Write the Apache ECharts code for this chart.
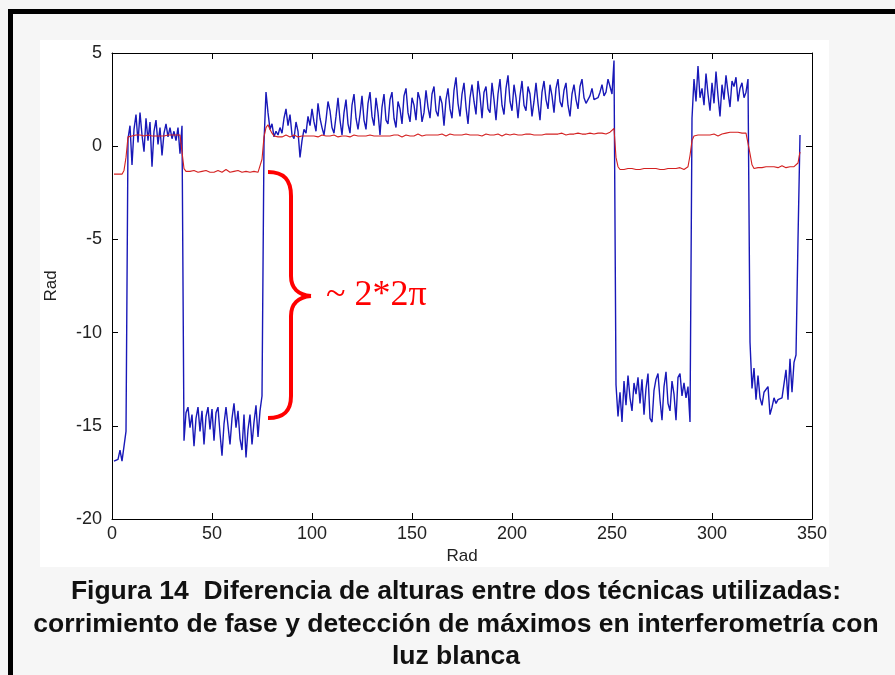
<!DOCTYPE html>
<html>
<head>
    <title>Diferencia de alturas</title>
    <meta charset="utf-8">
    <script type="text/javascript" src="https://cdn.jsdelivr.net/npm/echarts@6/dist/echarts.min.js"></script>
    <style>
        html, body { margin: 0; padding: 0; background: #f6f6f6; }
    </style>
</head>
<body>
<div id="chartmain" style="width:895px; height:675px;"></div>
<script type="text/javascript">
// tick labels
var xTicks = [0, 50, 100, 150, 200, 250, 300, 350];
var yTicks = [-20, -15, -10, -5, 0, 5];

// detección de máximos (azul), one value per sample x = 1..344
var blueVals = [
    -16.9, -16.9, -16.8, -16.3, -16.9, -16.9, -15.3,
    0.4, 1.1, -1.0, 0.9, 1.7, 0.2, 1.8, 0.6, -0.3, 1.5, 0.3, 1.3, -1.1, 0.8, 1.4, 0.1, 1.0, -0.5, 0.7, 1.2, 0.5, 1.0, 0.4, 0.8, 0.3, 1.0, -0.4, 1.1,
    -15.8, -14.3, -14.0, -15.1, -14.4, -16.1, -14.6, -14.0, -15.3, -14.2, -16.0, -14.5, -14.0, -15.2, -14.1, -15.8, -14.3, -14.0, -15.4, -16.6,
    -14.9, -14.0, -15.0, -16.0, -14.6, -13.8, -15.1, -14.2, -15.7, -16.3, -14.4, -16.7, -15.2, -14.4, -16.0, -14.8, -13.9, -15.6, -14.2,
    -13.4, 0.2,
    2.9, 1.8, 0.9, 1.2, 0.5, 0.8, 0.6, 1.0, 0.7, 1.5,
    2.0, 1.1, 1.7, 0.6, 0.4, 1.3, 0.8, -0.6, 0.3, 0.9,
    0.7, 1.6, 1.1, 2.0, 1.3, 0.8, 2.3, 1.5, 1.0, 0.6,
    1.4, 2.4, 1.9, 1.0, 0.7, 1.6, 2.6, 1.4, 0.6, 1.8,
    2.5, 1.2, 0.7, 2.2, 2.8, 1.5, 0.9, 1.7, 2.7, 1.4,
    0.9, 2.3, 2.9, 1.6, 1.1, 2.6, 1.8, 0.6, 2.1, 2.8,
    1.4, 1.2, 2.5, 2.9, 1.5, 1.0, 2.4, 2.0, 1.2, 2.7,
    3.1, 1.8, 1.3, 2.6, 2.2, 1.4, 2.9, 2.5, 1.3, 1.8,
    3.0, 2.1, 1.5, 2.8, 3.2, 1.9, 1.6, 2.7, 2.3, 1.1,
    2.5, 3.1, 2.0, 1.5, 3.0, 3.7, 2.3, 1.6, 2.8, 3.4,
    2.1, 1.2, 2.6, 3.3, 2.4, 1.7, 3.5, 2.7, 1.5, 2.9,
    3.2, 2.0, 1.8, 3.4, 2.5, 1.4, 2.8, 3.6, 2.2, 1.7,
    3.1, 3.8, 2.4, 1.9, 3.3, 2.6, 1.5, 2.7, 3.5, 2.2,
    1.9, 3.2, 2.8, 1.6, 2.4, 3.4, 2.3, 1.4, 2.9, 3.5,
    2.5, 2.0, 3.3, 2.7, 1.8, 3.1, 3.6, 2.4, 2.1, 3.0,
    3.4, 2.2, 1.6, 2.8, 3.3, 2.5, 2.0, 3.2, 3.6, 2.6,
    2.3, 2.4, 2.7, 3.1, 2.5, 2.4, 2.6, 2.9, 3.3, 2.7,
    2.9, 3.6, 3.2, 2.8,
    4.6,
    -12.8, -14.5, -13.2, -14.8, -12.6, -13.9, -12.3, -13.5, -14.2, -12.7, -13.3, -12.4, -13.8, -12.5, -14.4, -13.0, -12.2, -14.6, -14.8,
    -13.1, -12.5, -12.2, -13.6, -14.7, -12.9, -12.1, -13.8, -14.2, -12.6, -13.3, -14.7, -12.4, -12.2, -13.4, -12.7, -13.5, -12.9, -14.8,
    1.5, 3.6, 2.4, 4.3, 2.6, 3.1, 2.2, 3.9, 2.8, 1.9, 3.4, 2.3, 4.0, 2.7, 1.6, 3.3, 2.5, 3.8, 2.9, 2.1, 3.5, 3.2, 3.7, 2.4, 3.1, 3.4, 2.6, 2.9, 3.6,
    -10.5,
    -13.0, -11.9, -13.6, -12.3, -13.5, -13.9, -13.2, -13.3, -12.9, -14.4, -14.0, -13.5, -13.8, -13.6, -13.5, -13.5, -13.4, -12.0, -13.6, -11.4,
    -13.2, -11.6, -11.2,
    -5.0, 0.6
];

// corrimiento de fase (rojo), same samples
var redVals = [
    -1.5, -1.55, -1.5, -1.45, -1.5, -1.3, -0.6,
    0.5, 0.6, 0.55, 0.5, 0.6, 0.55, 0.6, 0.5, 0.55, 0.55, 0.6, 0.5, 0.55, 0.6, 0.55, 0.5, 0.55, 0.6, 0.55, 0.55, 0.6, 0.65, 0.6, 0.55, 0.6, 0.55, 0.6, 0.55,
    -1.2, -1.35, -1.4, -1.35, -1.4, -1.3, -1.35, -1.4, -1.45, -1.35, -1.4, -1.3, -1.35, -1.4, -1.35, -1.4, -1.35, -1.3, -1.4, -1.4,
    -1.35, -1.25, -1.35, -1.4, -1.35, -1.35, -1.4, -1.3, -1.35, -1.4, -1.45, -1.35, -1.25, -1.4, -1.4, -1.35, -1.35, -1.4, -1.3,
    -0.7, 0.5,
    1.0, 1.15, 0.9, 0.7,
    0.55, 0.6, 0.5, 0.55, 0.5, 0.55, 0.6, 0.55, 0.5, 0.55,
    0.6, 0.55, 0.5, 0.55, 0.55, 0.6, 0.55, 0.5, 0.55, 0.6,
    0.55, 0.55, 0.5, 0.55, 0.6, 0.55, 0.55, 0.5, 0.55, 0.55,
    0.6, 0.55, 0.5, 0.55, 0.55, 0.6, 0.55, 0.55, 0.5, 0.55,
    0.6, 0.6, 0.55, 0.5, 0.55, 0.6, 0.55, 0.55, 0.6, 0.55,
    0.55, 0.6, 0.55, 0.5, 0.55, 0.6, 0.55, 0.6, 0.55, 0.55,
    0.6, 0.55, 0.6, 0.55, 0.5, 0.55, 0.6, 0.6, 0.55, 0.6,
    0.55, 0.6, 0.65, 0.6, 0.55, 0.6, 0.6, 0.55, 0.6, 0.65,
    0.6, 0.55, 0.6, 0.6, 0.65, 0.6, 0.55, 0.6, 0.65, 0.6,
    0.6, 0.65, 0.6, 0.55, 0.6, 0.6, 0.65, 0.6, 0.6, 0.55,
    0.6, 0.65, 0.6, 0.6, 0.55, 0.6, 0.65, 0.6, 0.6, 0.65,
    0.6, 0.6, 0.65, 0.6, 0.55, 0.6, 0.65, 0.6, 0.6, 0.65,
    0.65, 0.6, 0.6, 0.65, 0.6, 0.6, 0.65, 0.7, 0.65, 0.6,
    0.6, 0.65, 0.6, 0.65, 0.6, 0.65, 0.65, 0.6, 0.65, 0.7,
    0.65, 0.6, 0.65, 0.65, 0.7, 0.65, 0.6, 0.65, 0.65, 0.7,
    0.65, 0.65, 0.7, 0.65, 0.65, 0.7, 0.65, 0.65, 0.7, 0.7,
    0.65, 0.7, 0.7, 0.65, 0.7, 0.7, 0.65, 0.7, 0.75, 0.8,
    0.95,
    -0.6, -1.1,
    -1.25, -1.2, -1.25, -1.3, -1.2, -1.25, -1.2, -1.2, -1.25, -1.2,
    -1.25, -1.2, -1.2, -1.25, -1.2, -1.15, -1.2, -1.25, -1.2, -1.2,
    -1.25, -1.3, -1.25, -1.2, -1.2, -1.15, -1.2, -1.25, -1.2, -1.2,
    -1.15, -1.2, -1.25, -1.2, -1.1, -0.5,
    0.3, 0.55, 0.6, 0.6, 0.65, 0.6, 0.65, 0.6, 0.65, 0.6,
    0.65, 0.65, 0.6, 0.55, 0.6, 0.65, 0.65, 0.7, 0.7, 0.75,
    0.7, 0.75, 0.8, 0.75, 0.75, 0.7, 0.75, 0.7, 0.7,
    -0.4,
    -1.0, -1.2, -1.1, -1.15, -1.1, -1.15, -1.1, -1.1, -1.15, -1.1,
    -1.15, -1.1, -1.1, -1.15, -1.1, -1.05, -1.1, -1.15, -1.1, -1.1,
    -1.05, -1.1, -1.0,
    -0.9, -0.3
];

var captionLines = [
    'Figura 14  Diferencia de alturas entre dos técnicas utilizadas:',
    'corrimiento de fase y detección de máximos en interferometría con',
    'luz blanca'
];

function toPoints(vals) {
    return vals.map(function (v, i) { return [i + 1, v]; });
}

var tickFont = { fontFamily: 'Liberation Sans, Arial', fontSize: 18, color: '#222' };
var axisLine = { show: true, onZero: false, lineStyle: { color: '#000', width: 1 } };
var tickIn = { show: true, inside: true, length: 6, lineStyle: { color: '#000' } };

var captionGraphics = captionLines.map(function (t, i) {
    return {
        type: 'text', x: 456, y: 592 + i * 32.5, z: 10,
        style: { text: t, font: 'bold 26.5px "Liberation Sans", Arial', fill: '#111',
                 textAlign: 'center', textVerticalAlign: 'middle' }
    };
});

// llave roja: curvas y tramos rectos
var braceStyle = { fill: 'none', stroke: '#ff0000', lineWidth: 4 };
var brace = [
    { type: 'bezierCurve', z: 10, style: braceStyle,
      shape: { x1: 268, y1: 172, cpx1: 284, cpy1: 172, cpx2: 291, cpy2: 180, x2: 291, y2: 196 } },
    { type: 'line', z: 10, style: braceStyle, shape: { x1: 291, y1: 196, x2: 291, y2: 276 } },
    { type: 'bezierCurve', z: 10, style: braceStyle,
      shape: { x1: 291, y1: 276, cpx1: 291, cpy1: 288, cpx2: 298, cpy2: 295, x2: 311, y2: 296 } },
    { type: 'bezierCurve', z: 10, style: braceStyle,
      shape: { x1: 311, y1: 296, cpx1: 298, cpy1: 297, cpx2: 291, cpy2: 304, x2: 291, y2: 316 } },
    { type: 'line', z: 10, style: braceStyle, shape: { x1: 291, y1: 316, x2: 291, y2: 396 } },
    { type: 'bezierCurve', z: 10, style: braceStyle,
      shape: { x1: 291, y1: 396, cpx1: 291, cpy1: 411, cpx2: 284, cpy2: 418, x2: 268, y2: 418 } }
];

var option = {
    animation: false,
    backgroundColor: '#f6f6f6',
    grid: { left: 112, top: 53, width: 700, height: 466, containLabel: false },
    xAxis: [
        {
            type: 'value', min: xTicks[0], max: xTicks[xTicks.length - 1], interval: 50,
            name: 'Rad', nameLocation: 'middle', nameGap: 27,
            nameTextStyle: { fontFamily: 'Liberation Sans, Arial', fontSize: 17, color: '#222' },
            axisLine: axisLine, axisTick: tickIn, splitLine: { show: false },
            axisLabel: Object.assign({ margin: 6 }, tickFont)
        },
        {
            type: 'value', position: 'top', min: xTicks[0], max: xTicks[xTicks.length - 1], interval: 50,
            axisLine: axisLine, axisTick: tickIn, splitLine: { show: false }, axisLabel: { show: false }
        }
    ],
    yAxis: [
        {
            type: 'value', min: yTicks[0], max: yTicks[yTicks.length - 1], interval: 5,
            name: 'Rad', nameLocation: 'middle', nameGap: 52,
            nameTextStyle: { fontFamily: 'Liberation Sans, Arial', fontSize: 17, color: '#222' },
            axisLine: axisLine, axisTick: tickIn, splitLine: { show: false },
            axisLabel: Object.assign({ margin: 10 }, tickFont)
        },
        {
            type: 'value', position: 'right', min: yTicks[0], max: yTicks[yTicks.length - 1], interval: 5,
            axisLine: axisLine, axisTick: tickIn, splitLine: { show: false }, axisLabel: { show: false }
        }
    ],
    graphic: [
        // fondo blanco de la figura
        { type: 'rect', z: -1, shape: { x: 40, y: 40, width: 789, height: 527 }, style: { fill: '#fff' } },
        // marco negro
        { type: 'rect', z: 10, shape: { x: 10.5, y: 11.5, width: 1000, height: 1000 },
          style: { fill: 'none', stroke: '#000', lineWidth: 5 } },
        { type: 'text', z: 10, x: 326, y: 296,
          style: { text: '~ 2*2π', font: '36px "Liberation Serif", "Times New Roman", serif', fill: '#ff0000', textVerticalAlign: 'middle' } }
    ].concat(brace, captionGraphics),
    series: [
        {
            name: 'detección de máximos', type: 'line', xAxisIndex: 0, yAxisIndex: 0,
            data: toPoints(blueVals), showSymbol: false,
            lineStyle: { color: '#1818b8', width: 1.4 }
        },
        {
            name: 'corrimiento de fase', type: 'line', xAxisIndex: 0, yAxisIndex: 0,
            data: toPoints(redVals), showSymbol: false,
            lineStyle: { color: '#d42020', width: 1.1 }
        }
    ]
};

var myChart = echarts.init(document.getElementById('chartmain'));
myChart.setOption(option);
</script>
</body>
</html>
